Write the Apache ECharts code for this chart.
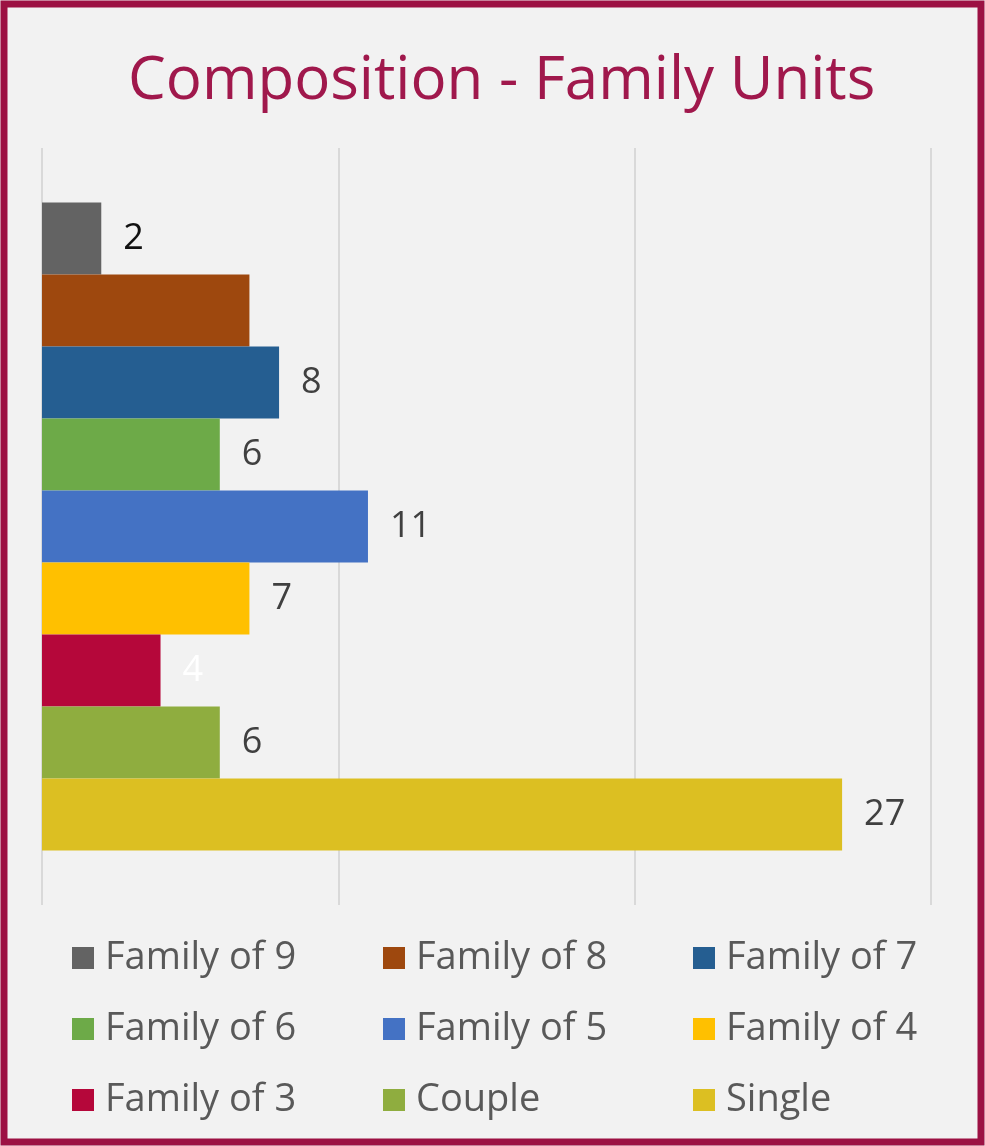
<!DOCTYPE html>
<html>
<head>
<meta charset="utf-8">
<script src="https://cdn.jsdelivr.net/npm/echarts@6/dist/echarts.min.js"></script>
<style>
html,body{margin:0;padding:0;background:#f2f2f2;}
#chart{width:985px;height:1146px;}
</style>
</head>
<body>
<div id="chart"></div>
<script>
const seriesNames = ['Family of 9','Family of 8','Family of 7','Family of 6','Family of 5','Family of 4','Family of 3','Couple','Single'];
const seriesValues = [2, 7, 8, 6, 11, 7, 4, 6, 27];
const seriesColors = ['#636363','#9E480E','#255E91','#6DAA48','#4472C4','#FFC000','#B5073A','#8FAD3F','#DCBF22'];
const labelColors = ['#111111','#404040','#404040','#404040','#404040','#404040','#ffffff','#404040','#404040'];
const labelShown = [true, false, true, true, true, true, true, true, true];
const categories = ['Composition'];
const xTicks = [0, 10, 20, 30];

const font = '"Open Sans", Lato, sans-serif';
const chart = echarts.init(document.getElementById('chart'), null, {renderer:'canvas'});

// legend layout: 3 columns x 3 rows
const legendLeft = [72, 383, 693];
const legendTop = [939, 1010, 1081];
const legends = seriesNames.map((n, i) => ({
  data: [n],
  left: legendLeft[i % 3],
  top: legendTop[Math.floor(i / 3)],
  padding: 0,
  icon: 'rect',
  itemWidth: 22,
  itemHeight: 22,
  selectedMode: false,
  textStyle: {fontSize: 38, color: '#595959', fontFamily: font, lineHeight: 38, padding: [0,0,0,6]}
}));

const series = seriesNames.map((n, i) => ({
  name: n,
  type: 'bar',
  data: [seriesValues[i]],
  itemStyle: {color: seriesColors[i]},
  barGap: '0%',
  barCategoryGap: '14.4%',
  label: {
    show: labelShown[i],
    position: 'right',
    distance: 22,
    fontSize: 36,
    fontFamily: font,
    color: labelColors[i]
  }
}));

chart.setOption({
  backgroundColor: '#f2f2f2',
  animation: false,
  title: {
    text: 'Composition - Family Units',
    left: 123,
    top: 47,
    textStyle: {fontSize: 60, fontWeight: 'normal', color: '#A0184C', fontFamily: font}
  },
  legend: legends,
  grid: {left: 42, right: 54, top: 148, bottom: 241, containLabel: false},
  xAxis: {
    type: 'value',
    min: xTicks[0],
    max: xTicks[xTicks.length - 1],
    interval: 10,
    axisLine: {show: false},
    axisTick: {show: false},
    axisLabel: {show: false},
    splitLine: {show: true, lineStyle: {color: '#d9d9d9', width: 2}}
  },
  yAxis: {
    type: 'category',
    data: categories,
    inverse: true,
    axisLine: {show: false},
    axisTick: {show: false},
    axisLabel: {show: false}
  },
  graphic: [{
    type: 'rect',
    shape: {x: 4, y: 4, width: 977, height: 1138},
    style: {fill: 'none', stroke: '#9C1143', lineWidth: 7},
    z: 100
  }],
  series: series
});
</script>
</body>
</html>
